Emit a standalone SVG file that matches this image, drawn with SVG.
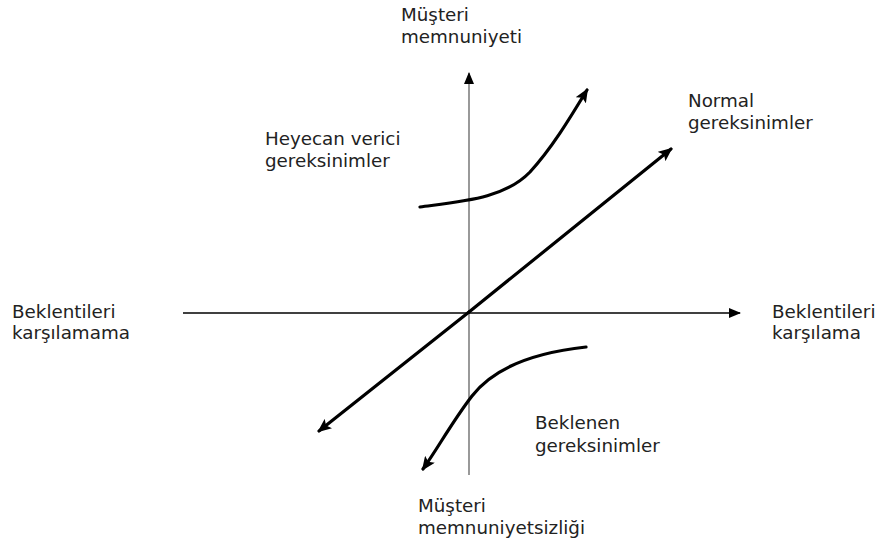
<svg xmlns="http://www.w3.org/2000/svg" width="881" height="547" viewBox="0 0 881 547">
<defs>
<style>
text{font-family:"DejaVu Sans",Verdana,sans-serif;font-size:18.3px;fill:#222}
.axis{fill:none;stroke-width:1.6}
.curve{fill:none;stroke:#000;stroke-width:3.2;stroke-linecap:round}
</style>
<marker id="ah" markerUnits="userSpaceOnUse" markerWidth="14" markerHeight="12" refX="12" refY="6" orient="auto" viewBox="0 0 14 12">
<path d="M0,0 L14,6 L0,12 L3,6 z" fill="#000"/>
</marker>
<marker id="as" markerUnits="userSpaceOnUse" markerWidth="12" markerHeight="10" refX="11" refY="5" orient="auto" viewBox="0 0 12 10">
<path d="M0,0 L12,5 L0,10 z" fill="#000"/>
</marker>
</defs>
<rect width="881" height="547" fill="#fff"/>
<g id="connectors">
<line class="axis" x1="469" y1="475" x2="469" y2="73" stroke="#808080" marker-end="url(#as)"/>
<line class="axis" x1="183" y1="313" x2="740" y2="313" stroke="#000" marker-end="url(#as)"/>
<line class="curve" x1="469" y1="312" x2="671" y2="149" marker-end="url(#ah)"/>
<line class="curve" x1="469" y1="312" x2="319" y2="431" marker-end="url(#ah)"/>
<path class="curve" d="M420,207 C465,201 505,198 530,172 C552,148 570,118 587,90" marker-end="url(#ah)"/>
<path class="curve" d="M586,347 C540,352 495,366 472,396 C452,422 438,448 423,469" marker-end="url(#ah)"/>
</g>
<g id="top-label"><text x="401" y="21">Müşteri</text><text x="401" y="43">memnuniyeti</text></g>
<g id="bottom-label"><text x="418" y="512">Müşteri</text><text x="418" y="534">memnuniyetsizliği</text></g>
<g id="left-label"><text x="12" y="318">Beklentileri</text><text x="12" y="339">karşılamama</text></g>
<g id="right-label"><text x="772" y="318">Beklentileri</text><text x="772" y="339">karşılama</text></g>
<g id="heyecan"><text x="265" y="145">Heyecan verici</text><text x="265" y="167">gereksinimler</text></g>
<g id="normal"><text x="688" y="107">Normal</text><text x="688" y="129">gereksinimler</text></g>
<g id="beklenen"><text x="535" y="429">Beklenen</text><text x="535" y="452">gereksinimler</text></g>
</svg>
